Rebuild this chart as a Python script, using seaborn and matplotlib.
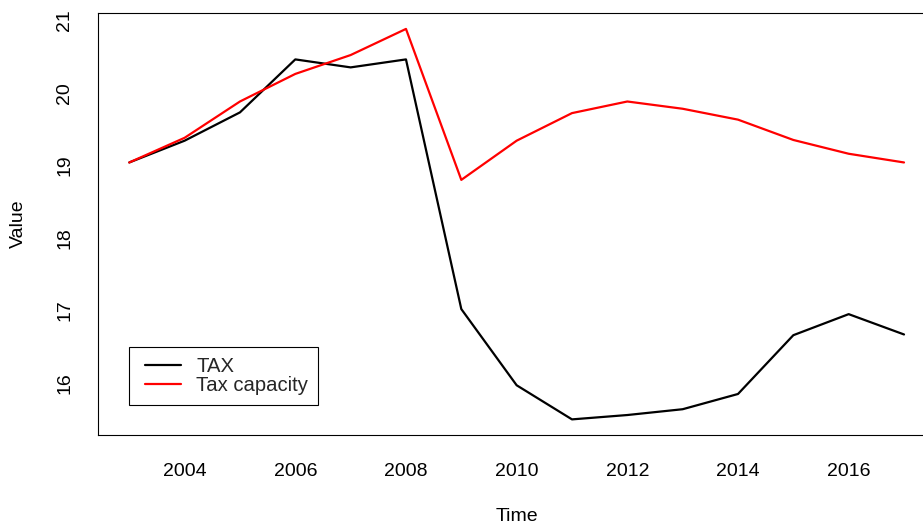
import matplotlib
matplotlib.use("Agg")
import matplotlib.pyplot as plt
import pandas as pd
import seaborn as sns

years = list(range(2003, 2018))
tax = [19.04, 19.34, 19.73, 20.46, 20.35, 20.46, 17.02, 15.97, 15.50,
       15.56, 15.64, 15.85, 16.66, 16.95, 16.67]
tax_capacity = [19.04, 19.38, 19.88, 20.26, 20.52, 20.88, 18.80, 19.34,
                19.72, 19.88, 19.78, 19.63, 19.35, 19.16, 19.04]
series_names = ["TAX", "Tax capacity"]
series_colors = ["black", "red"]
x_ticks = [2004, 2006, 2008, 2010, 2012, 2014, 2016]
y_ticks = [16, 17, 18, 19, 20, 21]

df = pd.DataFrame({
    "Time": years * 2,
    "Value": tax + tax_capacity,
    "Series": [series_names[0]] * len(years) + [series_names[1]] * len(years),
})

sns.set_style("white")
plt.rcParams["font.family"] = ["Liberation Sans", "DejaVu Sans"]
FS = 14
LEG_FS = 14.6
PX = 100 / 72  # pixels per point

W, H = 923, 524
fig = plt.figure(figsize=(W / 100, H / 100), dpi=100)
left_px, right_px, top_px, bottom_px = 98.3, 935.0, 13.3, 435.0
ax = fig.add_axes([left_px / W, 1 - bottom_px / H,
                   (right_px - left_px) / W, (bottom_px - top_px) / H])

sns.lineplot(data=df, x="Time", y="Value", hue="Series",
             palette=dict(zip(series_names, series_colors)),
             linewidth=1.6, ax=ax)

# R-style axis limits: data range padded by 4% on each side
def padded(lo, hi):
    r = hi - lo
    return lo - 0.04 * r, hi + 0.04 * r

ax.set_xlim(*padded(min(years), max(years)))
all_vals = tax + tax_capacity
ax.set_ylim(*padded(min(all_vals), max(all_vals)))

ax.set_xticks(x_ticks)
ax.set_xticklabels([str(t) for t in x_ticks])
ax.set_yticks(y_ticks)
ax.set_yticklabels([str(t) for t in y_ticks])
ax.tick_params(axis="both", direction="out", length=8.5, width=0.75,
               color="black", labelsize=FS, labelcolor="black")
ax.tick_params(axis="x", pad=12)
ax.tick_params(axis="y", pad=9.5)
for lab in ax.get_yticklabels():
    lab.set_rotation(90)
    lab.set_verticalalignment("center")

for sp in ax.spines.values():
    sp.set_color("black")
    sp.set_linewidth(0.8)

ax.set_xlabel("Time", fontsize=FS, color="black")
ax.set_ylabel("Value", fontsize=FS, color="black")
ax.xaxis.set_label_coords(0.5, -81.7 / (bottom_px - top_px))
ax.xaxis.label.set_verticalalignment("center")
ax.yaxis.set_label_coords((18 - left_px) / (right_px - left_px), 0.5)
ax.yaxis.label.set_verticalalignment("center")

# legend: line keys inset a little from the left edge of the box
key_len_px, key_shift_px = 36, 6
handles, labels = ax.get_legend_handles_labels()
leg = ax.legend(handles, labels, loc="upper left",
                bbox_to_anchor=(129.3 / W, 1 - 346.7 / H),
                bbox_transform=fig.transFigure, borderaxespad=0,
                fontsize=LEG_FS, frameon=True, fancybox=False,
                edgecolor="black", framealpha=1, labelspacing=0.02,
                handlelength=(key_len_px + key_shift_px) / PX / LEG_FS,
                handletextpad=15 / PX / LEG_FS, borderpad=0.5)
leg.get_frame().set_linewidth(0.8)
for line in leg.get_lines():
    line.set_linewidth(1.6)
    xd = list(line.get_xdata())
    yd = list(line.get_ydata())
    line.set_data([xd[0] + key_shift_px / PX, xd[-1]], [yd[0], yd[-1]])

fig.savefig("out.png", dpi=100, facecolor="white")
